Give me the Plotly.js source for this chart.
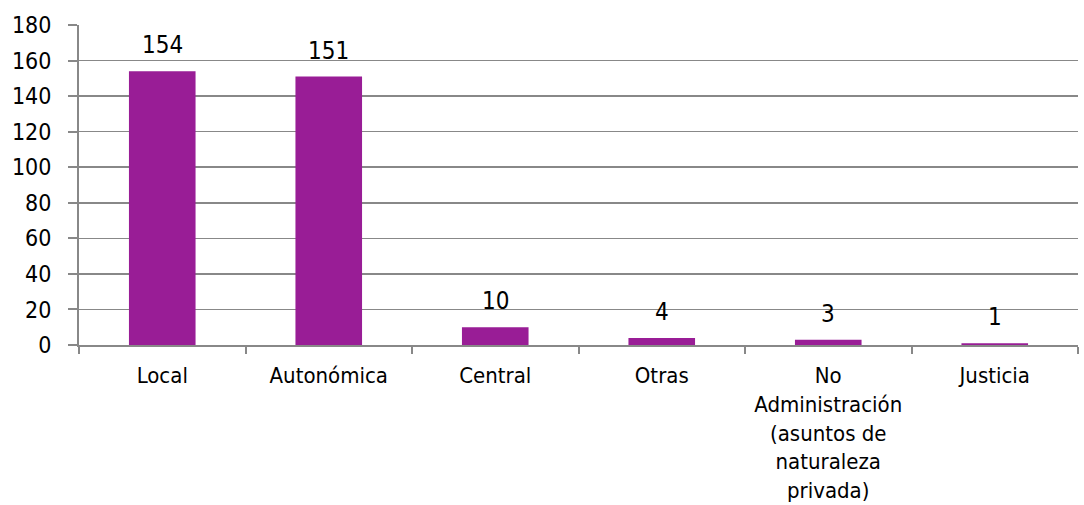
<!DOCTYPE html>
<html><head><meta charset="utf-8">
<script src="https://cdn.plot.ly/plotly-3.0.1.min.js"></script>
<style>body{margin:0;background:#fff}#chart{width:1084px;height:505px}</style>
</head><body><div id="chart"></div>
<script>
const categories = ["Local","Autonómica","Central","Otras","No<br>Administración<br>(asuntos de<br>naturaleza<br>privada)","Justicia"];
const values = [154,151,10,4,3,1];
const yTicks = [0,20,40,60,80,100,120,140,160,180];
const FONT = "DejaVu Sans Condensed, DejaVu Sans";

const trace = {
  type: "bar",
  x: categories,
  y: values,
  marker: {color: "#991D96"},
  width: 0.4,
  hoverinfo: "x+y"
};
const annotations = categories.map((c, i) => ({
  x: c, y: values[i], xref: "x", yref: "y",
  text: String(values[i]), showarrow: false,
  yanchor: "bottom", yshift: 10,
  font: {family: FONT, size: 24, color: "#000"}
}));
const layout = {
  width: 1084, height: 505,
  margin: {l: 79, r: 6, t: 25, b: 160},
  paper_bgcolor: "#fff", plot_bgcolor: "#fff",
  showlegend: false,
  font: {family: FONT, size: 22, color: "#000"},
  annotations: annotations,
  xaxis: {
    type: "category",
    showline: true, linecolor: "#888", linewidth: 2,
    ticks: "outside", tickson: "boundaries", ticklen: 7, tickcolor: "#888", tickwidth: 2,
    tickfont: {family: FONT, size: 22},
    ticklabelstandoff: 10,
    showgrid: false, zeroline: false
  },
  yaxis: {
    range: [0,180], tickvals: yTicks,
    showline: true, linecolor: "#888", linewidth: 2,
    ticks: "outside", ticklen: 9, tickcolor: "#888", tickwidth: 2,
    showgrid: true, gridcolor: "#888", gridwidth: 1.5,
    zeroline: false,
    ticklabelstandoff: 12,
    tickfont: {family: FONT, size: 23}
  },
  bargap: 0.6
};
Plotly.newPlot("chart", [trace], layout, {displayModeBar: false, staticPlot: true});
</script></body></html>
